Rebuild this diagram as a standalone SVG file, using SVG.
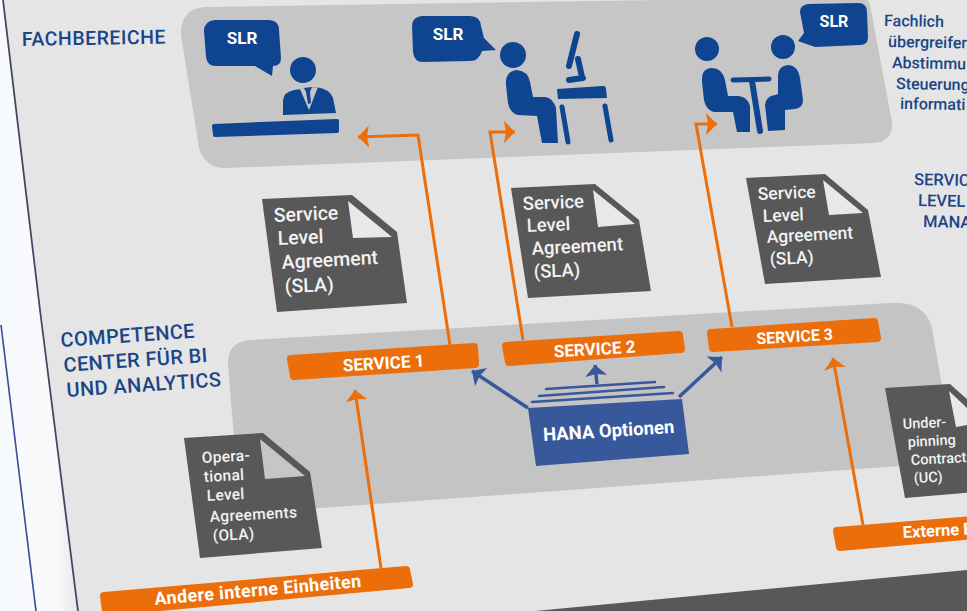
<svg xmlns="http://www.w3.org/2000/svg" width="967" height="611" viewBox="0 0 967 611">
<style>
text{font-family:Roboto,"Liberation Sans",sans-serif}
.h{fill:#1b4587;font-weight:500}
.d{fill:#f2f2f2;font-weight:500}
.w{fill:#fff;font-weight:700}
.doc{fill:#585858}
.bar{fill:#ec6e0b;stroke:#ec6e0b;stroke-width:8;stroke-linejoin:round}
.b{fill:#0f4590}
.o{fill:none;stroke:#ec6e0b;stroke-width:3}
.u{fill:none;stroke:#38589c;stroke-width:3.5}
.s{fill:none;stroke:#38589c;stroke-width:2.5;stroke-linecap:round}
.bl{fill:none;stroke:#0f4590;stroke-linecap:round}
</style>
<defs>
<linearGradient id="side" x1="0" y1="0" x2="1" y2="0"><stop offset="0" stop-color="#f6f9fd"/><stop offset="0.7" stop-color="#fafafa"/><stop offset="1" stop-color="#e6e8ea"/></linearGradient>
<marker id="ao" markerUnits="userSpaceOnUse" markerWidth="14" markerHeight="26" refX="11" refY="12" orient="auto"><path d="M0,1L11,12L0,23L2,12Z" fill="#ec6e0b"/></marker>
<marker id="ab" markerUnits="userSpaceOnUse" markerWidth="14" markerHeight="26" refX="11" refY="12" orient="auto"><path d="M0,1L11,12L0,23L2,12Z" fill="#38589c"/></marker>
</defs>
<rect width="967" height="611" fill="#e5e5e5"/>
<path d="M0,0H3L78,611H0Z" fill="url(#side)"/>
<path d="M3,0L40,310L78,611" fill="none" stroke="#4a4560" stroke-width="1.8"/>
<path d="M1,325L36,611" fill="none" stroke="#3a4a9a" stroke-width="1.6"/>
<path d="M535,611L967,570V611Z" fill="#585858"/>

<g id="panel-fachbereiche"><path d="M205,7L860,-3Q868,-3 870,5L892,122Q893,141 875,143L225,168Q205,168 199,148L181,35Q180,9 205,7Z" fill="#c6c6c6"/></g>
<g id="panel-competence"><path d="M250,340L890,303Q925,301 932,328L955,462L320,508L240,510L228,365Q227,342 250,340Z" fill="#c4c4c4"/></g>

<g id="connectors">
<path class="o" d="M450,345L418,135L358,137" marker-end="url(#ao)"/>
<path class="o" d="M523,340L490,132L515,132" marker-end="url(#ao)"/>
<path class="o" d="M732,327L696,124L717,124" marker-end="url(#ao)"/>
<path class="o" d="M381,568L355,390" marker-end="url(#ao)"/>
<path class="o" d="M863,525L833,358" marker-end="url(#ao)"/>
<path class="u" d="M528,408L472,371" marker-end="url(#ab)"/>
<path class="u" d="M597,384L595,365" marker-end="url(#ab)"/>
<path class="u" d="M679,397L722,357" marker-end="url(#ab)"/>
</g>

<g id="label-fachbereiche"><text class="h" x="22" y="46" font-size="19.5" letter-spacing="0.5" transform="rotate(-1 22 46)">FACHBEREICHE</text></g>

<g id="person-1">
<path class="b" d="M215,20H268Q279,20 279,30L281,58Q281,66 273,66L272,76L255,66H216Q207,66 206,57L204,31Q204,21 215,20Z"/>
<text class="w" x="242" y="44" font-size="17" text-anchor="middle">SLR</text>
<circle class="b" cx="303" cy="70" r="13"/>
<path class="b" d="M283,115L283,100Q284,92 294,90L316,87Q330,89 333,98L336,113Z"/>
<path d="M300,89L309,110L318,87Z" fill="#c6c6c6"/>
<path class="b" d="M304,88L312,87L310,92L311,103L308,104L306,92Z"/>
<path class="b" d="M214,124L337,119Q339,119 339,121L339,131Q339,133 337,133L215,137Q213,137 213,135L212,126Q212,124 214,124Z"/>
</g>

<g id="person-2">
<path class="b" d="M422,16H470Q480,16 481,26L484,38L496,50L482,51Q479,61 470,61L423,62Q414,62 413,52L412,26Q412,17 422,16Z"/>
<text class="w" x="448" y="40" font-size="17" text-anchor="middle">SLR</text>
<circle class="b" cx="513" cy="55" r="13"/>
<path class="b" d="M506,85Q505,71 517,70Q528,71 530,82L533,97L545,97Q553,98 556,108L558,143L542,143L537,116L518,115Q510,113 508,103Z"/>
<path class="b" d="M557,89L603,86Q606,86 606,89L607,98L558,99Z"/>
<path class="bl" stroke-width="5" d="M562,107L568,142M605,106L611,140"/>
<path class="bl" stroke-width="6" d="M577,34L569,66M578,59L582,77M569,80L583,78"/>
</g>

<g id="person-3">
<path class="b" d="M808,4L858,3Q867,3 867,12L868,37Q868,45 860,45L815,47L798,41L804,33L800,12Q800,5 808,4Z"/>
<text class="w" x="834" y="27" font-size="16" text-anchor="middle">SLR</text>
<circle class="b" cx="707" cy="49" r="12"/>
<circle class="b" cx="783" cy="47" r="12"/>
<path class="b" d="M702,82Q701,68 712,68Q722,68 725,80L728,96L738,96Q747,96 750,106L750,132L737,132L733,112L714,112Q706,110 704,100Z"/>
<path class="b" d="M778,75Q779,65 789,65Q798,66 800,78L803,100Q803,108 795,109L785,110L785,130L768,131L765,105Q766,96 775,95L778,94Z"/>
<path class="bl" stroke-width="5" d="M733,80L769,79"/>
<path class="bl" stroke-width="6" d="M752,81L760,131"/>
</g>

<g id="label-fachlich" font-size="16">
<text class="h" x="884" y="26" transform="rotate(1 884 26)" font-weight="400">Fachlich</text>
<text class="h" x="888" y="47" transform="rotate(1 888 47)" font-weight="400">übergreifen</text>
<text class="h" x="892" y="68" transform="rotate(1 892 68)" font-weight="400">Abstimmu</text>
<text class="h" x="896" y="89" transform="rotate(1 896 89)" font-weight="400">Steuerung</text>
<text class="h" x="900" y="109" transform="rotate(1 900 109)" font-weight="400">informati</text>
</g>
<g id="label-service-level" font-size="16.5">
<text class="h" x="914" y="185" transform="rotate(1 914 185)">SERVIC</text>
<text class="h" x="918" y="206" transform="rotate(1 918 206)">LEVEL</text>
<text class="h" x="923" y="227" transform="rotate(1 923 227)">MANA</text>
</g>

<g id="sla-1">
<path class="doc" d="M262,199L352,195L397,232L407,303L277,312Z"/>
<path d="M348,201L392,237L353,238Z" fill="#e8e8e8"/>
<g font-size="19.5">
<text class="d" x="274" y="222" transform="rotate(-2.5 274 222)">Service</text>
<text class="d" x="278" y="245" transform="rotate(-2.5 278 245)">Level</text>
<text class="d" x="282" y="269" transform="rotate(-3 282 269)">Agreement</text>
<text class="d" x="285" y="293" transform="rotate(-2.5 285 293)">(SLA)</text>
</g>
</g>
<g id="sla-2">
<path class="doc" d="M511,188L595,184L639,220L651,291L528,298Z"/>
<path d="M593,190L635,224L598,227Z" fill="#e8e8e8"/>
<g font-size="18.5">
<text class="d" x="523" y="210" transform="rotate(-2.5 523 210)">Service</text>
<text class="d" x="527" y="232" transform="rotate(-2.5 527 232)">Level</text>
<text class="d" x="532" y="255" transform="rotate(-3 532 255)">Agreement</text>
<text class="d" x="534" y="278" transform="rotate(-2.5 534 278)">(SLA)</text>
</g>
</g>
<g id="sla-3">
<path class="doc" d="M746,178L825,174L868,210L881,277L765,284Z"/>
<path d="M823,180L863,213L829,215Z" fill="#e8e8e8"/>
<g font-size="17.5">
<text class="d" x="758" y="200" transform="rotate(-2.5 758 200)">Service</text>
<text class="d" x="763" y="222" transform="rotate(-2.5 763 222)">Level</text>
<text class="d" x="767" y="243" transform="rotate(-3 767 243)">Agreement</text>
<text class="d" x="770" y="265" transform="rotate(-2.5 770 265)">(SLA)</text>
</g>
</g>

<g id="label-competence" font-size="20" letter-spacing="0.4">
<text class="h" x="61" y="347" transform="rotate(-4 61 347)">COMPETENCE</text>
<text class="h" x="64" y="372" transform="rotate(-4 64 372)">CENTER FÜR BI</text>
<text class="h" x="67" y="397" transform="rotate(-4 67 397)">UND ANALYTICS</text>
</g>

<g id="service-1"><path class="bar" d="M291,359L474,347L475,364L294,376Z"/><text class="w" x="384" y="369" font-size="17" text-anchor="middle" transform="rotate(-3.5 384 369)">SERVICE 1</text></g>
<g id="service-2"><path class="bar" d="M506,346L679,335L681,349L509,362Z"/><text class="w" x="595" y="355" font-size="17" text-anchor="middle" transform="rotate(-3.5 595 355)">SERVICE 2</text></g>
<g id="service-3"><path class="bar" d="M711,333L874,322L877,338L713,348Z"/><text class="w" x="795" y="342" font-size="16" text-anchor="middle" transform="rotate(-3.5 795 342)">SERVICE 3</text></g>

<g id="hana">
<path d="M528,408L682,399L689,454L536,466Z" fill="#38589c"/>
<path class="s" d="M532,402L673,393M539,396L664,387M546,389L655,382"/>
<text class="w" x="609" y="437" font-size="18.5" text-anchor="middle" transform="rotate(-3.5 609 437)">HANA Optionen</text>
</g>

<g id="ola">
<path class="doc" d="M184,438L263,433L310,472L322,548L200,558Z"/>
<path d="M260,439L305,476L265,479Z" fill="#c6c6c6"/>
<g font-size="15.5" letter-spacing="0.3">
<text class="d" x="202" y="463" transform="rotate(-3 202 463)">Opera-</text>
<text class="d" x="204" y="482" transform="rotate(-3 204 482)">tional</text>
<text class="d" x="207" y="501" transform="rotate(-3 207 501)">Level</text>
<text class="d" x="210" y="522" transform="rotate(-3 210 522)">Agreements</text>
<text class="d" x="213" y="541" transform="rotate(-3 213 541)">(OLA)</text>
</g>
</g>

<g id="uc">
<path class="doc" d="M885,388L950,384L990,420L1000,490L905,498Z"/>
<path d="M949,391L967,408V425L956,427Z" fill="#e8e8e8"/>
<g font-size="14.5">
<text class="d" x="903" y="429" transform="rotate(-3 903 429)">Under-</text>
<text class="d" x="908" y="447" transform="rotate(-3 908 447)">pinning</text>
<text class="d" x="911" y="465" transform="rotate(-3 911 465)">Contracts</text>
<text class="d" x="914" y="483" transform="rotate(-3 914 483)">(UC)</text>
</g>
</g>

<g id="andere"><path class="bar" d="M104,596L406,570L409,584L106,612Z"/><text class="w" x="155" y="605" font-size="18" letter-spacing="0.35" transform="rotate(-5 155 605)">Andere interne Einheiten</text></g>
<g id="externe"><path class="bar" d="M837,531L975,520L975,535L840,547Z"/><text class="w" x="903" y="538" font-size="16.5" transform="rotate(-3 903 538)">Externe E</text></g>
</svg>
